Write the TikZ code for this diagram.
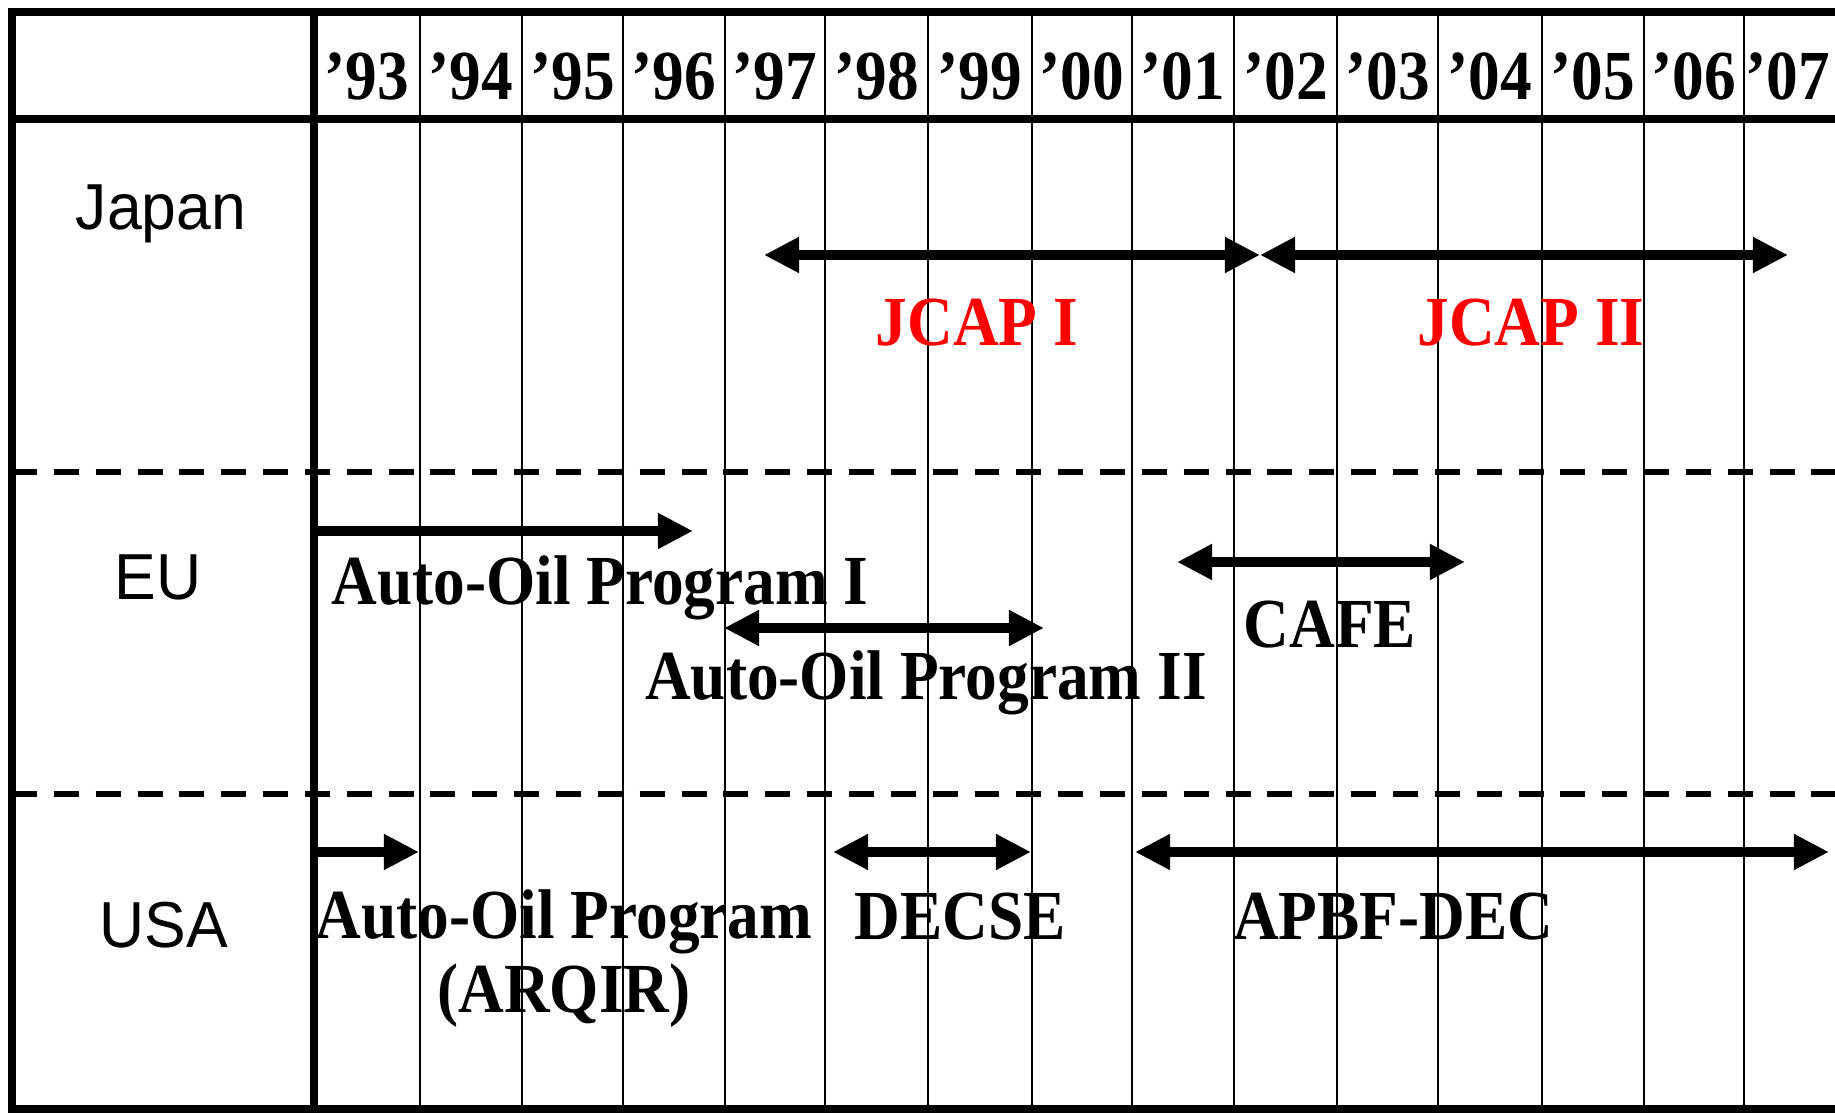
\documentclass[tikz,border=0pt]{standalone}
\usepackage{fontspec}
\usepackage{graphicx}
\setmainfont{Liberation Serif}
\newfontfamily\ctysans{Liberation Sans}
\usetikzlibrary{arrows.meta}
\newcommand\cx[1]{\scalebox{0.9}[1]{#1}}
\newcommand\cy[1]{\scalebox{0.96}[1]{#1}}
\definecolor{jred}{RGB}{255,0,0}
\tikzset{
  thickrule/.style={line width=2.1pt},
  thinrule/.style={line width=0.7pt},
  dashrule/.style={line width=1.9pt, dash pattern=on 7.1pt off 4.8pt},
  yearlbl/.style={anchor=base, inner sep=0pt, font=\fontsize{20}{24}\selectfont\bfseries},
  proglbl/.style={anchor=base, inner sep=0pt, font=\fontsize{20}{21}\selectfont\bfseries},
  redlbl/.style={proglbl, text=jred},
  ctylbl/.style={anchor=base, inner sep=0pt, font=\ctysans\fontsize{18.5}{22}\selectfont},
  both/.style={line width=2.6pt, {Triangle[length=10pt,width=9.6pt]}-{Triangle[length=10pt,width=9.6pt]}},
  onlyend/.style={line width=2.6pt, -{Triangle[length=10pt,width=9.6pt]}},
}
\begin{document}
\begin{tikzpicture}[x=0.01cm,y=-0.01cm]
\useasboundingbox (0,0) rectangle (1835,1113);
\fill[white] (0,0) rectangle (1835,1113);
% thin year column rules
\foreach \xx in {420,522,623,725,825,928,1032,1132,1234,1337,1438,1542,1644,1744}
  \draw[thinrule] (\xx,12) -- (\xx,1109);
% dashed row separators
\draw[dashrule] (12,472) -- (1835,472);
\draw[dashrule] (12,794) -- (1835,794);
% thick frame and rules
\draw[thickrule] (1835,12) -- (12,12) -- (12,1109) -- (1835,1109);
\draw[thickrule] (12,119) -- (1835,119);
\draw[thickrule] (314,12) -- (314,1109);
% year labels
\foreach \xx/\yy [count=\i] in {367/93,471/94,572.5/95,674/96,775/97,876.5/98,980/99,1082/00,1183/01,1285.5/02,1387.5/03,1490/04,1593/05,1694/06,1788/07}
  \node[yearlbl] (y\i) at (\xx,99.5) {\cx{’\yy}};
% country labels
\node[ctylbl] (japan) at (161,230) {\cy{Japan}};
\node[ctylbl] (eu) at (158,600) {\cy{EU}};
\node[ctylbl] (usa) at (164,948) {\cy{USA}};
% arrow end points
\coordinate (j1a) at (764,255);
\coordinate (jmid) at (1260,255);
\coordinate (j2b) at (1788,255);
\coordinate (a1a) at (314,531);
\coordinate (a1b) at (693,531);
\coordinate (a2a) at (724,628);
\coordinate (a2b) at (1044,628);
\coordinate (cfa) at (1177,562);
\coordinate (cfb) at (1465,562);
\coordinate (ara) at (318,852);
\coordinate (arb) at (419,852);
\coordinate (dca) at (833,852);
\coordinate (dcb) at (1031,852);
\coordinate (apa) at (1135,852);
\coordinate (apb) at (1829,852);
% arrows
\draw[both] (j1a) -- (jmid);
\draw[both] (jmid) -- (j2b);
\draw[onlyend] (a1a) -- (a1b);
\draw[both] (a2a) -- (a2b);
\draw[both] (cfa) -- (cfb);
\draw[onlyend] (ara) -- (arb);
\draw[both] (dca) -- (dcb);
\draw[both] (apa) -- (apb);
% programme labels
\node[redlbl] (jcap1) at (977,346) {\cx{JCAP I}};
\node[redlbl] (jcap2) at (1531,346) {\cx{JCAP II}};
\node[proglbl] (aop1) at (600,605) {\cx{Auto-Oil Program I}};
\node[proglbl] (aop2) at (926,700) {\cx{Auto-Oil Program II}};
\node[proglbl] (cafe) at (1330,648) {\cx{CAFE}};
\node[proglbl] (arqir1) at (564,939) {\cx{Auto-Oil Program}};
\node[proglbl] (arqir2) at (564,1013) {\cx{(ARQIR)}};
\node[proglbl] (decse) at (960,940) {\cx{DECSE}};
\node[proglbl] (apbf) at (1393,940) {\cx{APBF-DEC}};
\end{tikzpicture}
\end{document}
